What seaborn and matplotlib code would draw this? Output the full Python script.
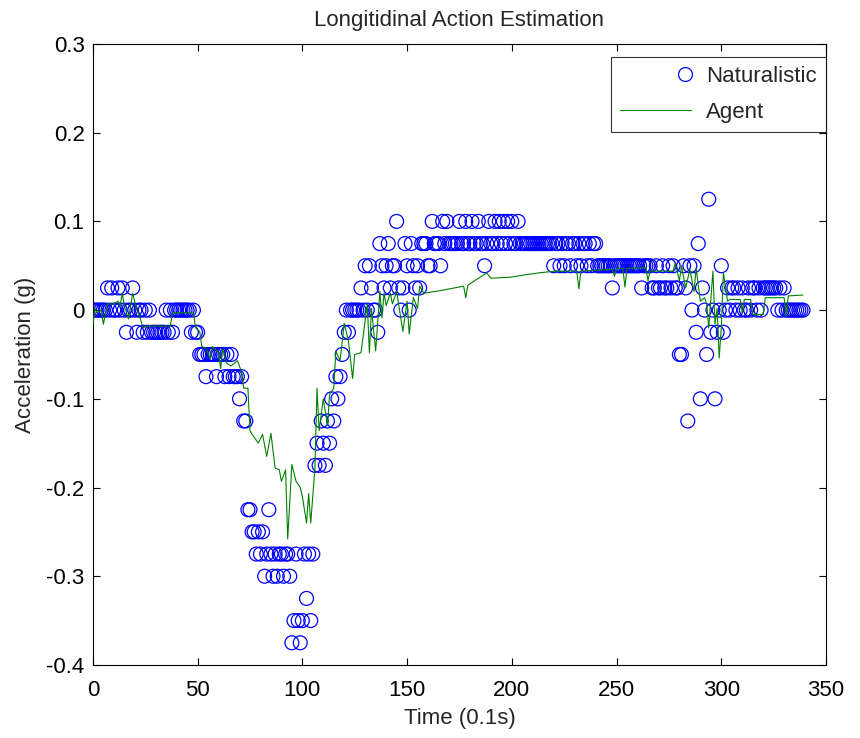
import numpy as np
import pandas as pd
import matplotlib
matplotlib.use("Agg")
import matplotlib.pyplot as plt
import seaborn as sns
from matplotlib.lines import Line2D
from matplotlib.legend_handler import HandlerBase

# Naturalistic acceleration, one sample per time step, in units of 0.025 g
nat_levels = [
    0, 0, 0, 0, 0, 0, 0, 1, 0, 1,
    0, 0, 1, 0, 1, 0, -1, 0, 0, 1,
    0, -1, 0, 0, -1, 0, -1, 0, -1, -1,
    -1, -1, -1, -1, -1, 0, -1, 0, -1, 0,
    0, 0, 0, 0, 0, 0, 0, -1, 0, -1,
    -1, -2, -2, -2, -3, -2, -2, -2, -2, -3,
    -2, -2, -2, -3, -2, -3, -2, -3, -3, -3,
    -4, -3, -5, -5, -9, -9, -10, -10, -11, -10,
    -11, -10, -12, -11, -9, -11, -12, -11, -12, -11,
    -11, -12, -11, -11, -12, -15, -14, -11, -14, -15,
    -14, -11, -13, -11, -14, -11, -7, -6, -7, -5,
    -6, -7, -5, -6, -4, -5, -3, -4, -3, -2,
    -1, 0, -1, 0, 0, 0, 0, 0, 1, 0,
    2, 0, 2, 1, 0, 0, -1, 3, 2, 1,
    2, 3, 1, 2, 2, 4, 1, 0, 1, 3,
    2, 0, 3, 2, 1, 2, 1, 3, 3, 3,
    2, 2, 4, 3, 3, 3, 2, 4, 3, 4,
    3, 3, 3, 3, 3, 4, 3, 3, 4, 3,
    3, 4, 3, 3, 4, 3, 3, 2, 3, 4,
    3, 3, 4, 3, 4, 3, 4, 3, 4, 3,
    4, 3, 3, 4, 3, 3, 3, 3, 3, 3,
    3, 3, 3, 3, 3, 3, 3, 3, 3, 3,
    2, 3, 3, 2, 3, 2, 3, 3, 2, 3,
    3, 2, 3, 2, 3, 3, 2, 3, 2, 3,
    3, 2, 2, 2, 2, 2, 2, 2, 1, 2,
    2, 2, 2, 2, 2, 2, 2, 2, 2, 2,
    2, 2, 1, 2, 2, 2, 2, 1, 1, 2,
    1, 1, 2, 1, 1, 2, 1, 2, 1, 1,
    -2, -2, 2, 1, -5, 2, 0, 2, -1, 3,
    -4, 1, 0, -2, 5, -1, 0, -4, -1, 0,
    2, -1, 0, 1, 0, 1, 1, 0, 1, 0,
    1, 0, 0, 1, 0, 1, 1, 0, 1, 0,
    1, 1, 1, 1, 1, 1, 1, 0, 1, 0,
    1, 0, 0, 0, 0, 0, 0, 0, 0, 0,
]
nat_time = list(range(len(nat_levels)))
nat_accel = [k * 0.025 for k in nat_levels]

# Agent estimate (read at its turning points)
agent_time = [0, 1, 2, 4, 5, 7, 10, 12, 13, 14, 15, 17, 19, 21, 22, 24, 26, 37, 38, 48,
              49, 51, 52, 54, 56, 57, 60, 61, 62, 64, 66, 69, 71, 72, 74, 75, 76, 79, 81, 83,
              85, 87, 89, 90, 92, 93, 95, 97, 99, 100, 102, 103, 104, 106, 107, 108, 110, 112, 113, 115,
              116, 118, 120, 122, 124, 125, 128, 131, 132, 133, 135, 137, 138, 139, 140, 142, 143, 145, 148, 150,
              151, 153, 155, 156, 158, 166, 177, 178, 179, 188, 190, 199, 207, 213, 221, 231, 232, 233, 241, 248,
              249, 250, 253, 254, 255, 264, 265, 266, 277, 278, 280, 281, 283, 285, 287, 288, 290, 292, 293, 294,
              296, 297, 298, 299, 300, 301, 303, 304, 309, 310, 311, 314, 315, 320, 321, 330, 331, 332, 339]
agent_accel = [-0.016, 0.002, -0.003, 0.0, -0.016, 0.007, 0.007, 0.010, 0.005, 0.019, 0.005, -0.010, 0.019, 0.0, -0.005, -0.020, -0.018, -0.018, -0.003, -0.003,
               -0.020, -0.024, -0.041, -0.043, -0.055, -0.041, -0.048, -0.066, -0.044, -0.060, -0.063, -0.057, -0.070, -0.088, -0.088, -0.136, -0.140, -0.150, -0.140, -0.165,
               -0.139, -0.178, -0.180, -0.193, -0.180, -0.258, -0.174, -0.193, -0.200, -0.210, -0.240, -0.207, -0.240, -0.178, -0.088, -0.136, -0.100, -0.130, -0.095, -0.088,
               -0.046, -0.057, -0.015, -0.035, -0.077, -0.050, -0.048, 0.007, -0.048, 0.002, -0.046, 0.021, -0.009, 0.019, 0.005, 0.019, 0.007, 0.021, -0.024, 0.010,
               -0.027, 0.014, 0.002, 0.027, 0.019, 0.022, 0.027, 0.014, 0.028, 0.042, 0.036, 0.037, 0.040, 0.042, 0.044, 0.044, 0.024, 0.044, 0.045, 0.046,
               0.038, 0.047, 0.047, 0.026, 0.047, 0.048, 0.033, 0.044, 0.044, 0.053, 0.033, 0.050, 0.025, 0.046, 0.021, 0.047, 0.010, 0.014, 0.007, -0.020,
               0.044, -0.016, 0.002, -0.054, -0.020, 0.042, 0.010, 0.012, 0.012, -0.003, 0.012, 0.012, -0.005, -0.005, 0.014, 0.014, -0.007, 0.016, 0.017]

x_ticks = [0, 50, 100, 150, 200, 250, 300, 350]
y_ticks = [-0.4, -0.3, -0.2, -0.1, 0.0, 0.1, 0.2, 0.3]
y_tick_labels = ["-0.4", "-0.3", "-0.2", "-0.1", "0", "0.1", "0.2", "0.3"]

nat_df = pd.DataFrame({"t": nat_time, "a": nat_accel})
agent_df = pd.DataFrame({"t": agent_time, "a": agent_accel})

sns.set_theme(style="white")
plt.rcParams["font.family"] = ["Liberation Sans", "DejaVu Sans"]

FS = 16
blue = (0, 0, 1)
green = (0, 0.5, 0)

fig = plt.figure(figsize=(8.6, 7.38), dpi=100)
ax = fig.add_axes([0.108, 0.099, 0.8525, 0.8414])

sns.scatterplot(data=nat_df, x="t", y="a", ax=ax, marker="o", s=100,
                facecolors="none", edgecolor=blue, linewidth=0.9, zorder=2)
sns.lineplot(data=agent_df, x="t", y="a", ax=ax, color=green, linewidth=0.8,
             estimator=None, sort=False, zorder=3)

ax.set_xlim(0, 350)
ax.set_ylim(-0.4, 0.3)
ax.set_xticks(x_ticks)
ax.set_xticklabels([str(v) for v in x_ticks])
ax.set_yticks(y_ticks)
ax.set_yticklabels(y_tick_labels)

ax.tick_params(axis="both", which="both", direction="in", length=5, width=0.8,
               top=True, right=True, bottom=True, left=True, labelsize=FS,
               colors="black")
ax.tick_params(axis="x", pad=11)
ax.tick_params(axis="y", pad=6)
for sp in ax.spines.values():
    sp.set_visible(True)
    sp.set_color("black")
    sp.set_linewidth(0.8)
ax.grid(False)

ax.set_title("Longitidinal Action Estimation", fontsize=FS, pad=13)
ax.set_xlabel("Time (0.1s)", fontsize=FS, labelpad=5)
ax.set_ylabel("Acceleration (g)", fontsize=FS, labelpad=7)


class EndMarkerHandler(HandlerBase):
    def create_artists(self, legend, orig_handle, xdescent, ydescent,
                       width, height, fontsize, trans):
        x = width - xdescent - 4
        y = height / 2.0 - ydescent
        m = Line2D([x], [y], linestyle="none", marker="o", markersize=10,
                   markerfacecolor="none", markeredgecolor=blue,
                   markeredgewidth=0.9, transform=trans)
        return [m]


nat_handle = Line2D([], [], linestyle="none", marker="o", markersize=10,
                    markerfacecolor="none", markeredgecolor=blue)
agent_handle = Line2D([], [], color=green, linewidth=0.8)
leg = ax.legend([nat_handle, agent_handle], ["Naturalistic", "Agent"],
                handler_map={nat_handle: EndMarkerHandler()},
                loc="upper right", bbox_to_anchor=(1.0, 0.979), fontsize=FS,
                frameon=True, fancybox=False, shadow=False, handlelength=3.2,
                borderpad=0.4, labelspacing=0.68, handletextpad=0.7,
                borderaxespad=0.0)
leg.get_frame().set_edgecolor("black")
leg.get_frame().set_linewidth(0.8)

fig.savefig("out.png", dpi=100, facecolor="white")
